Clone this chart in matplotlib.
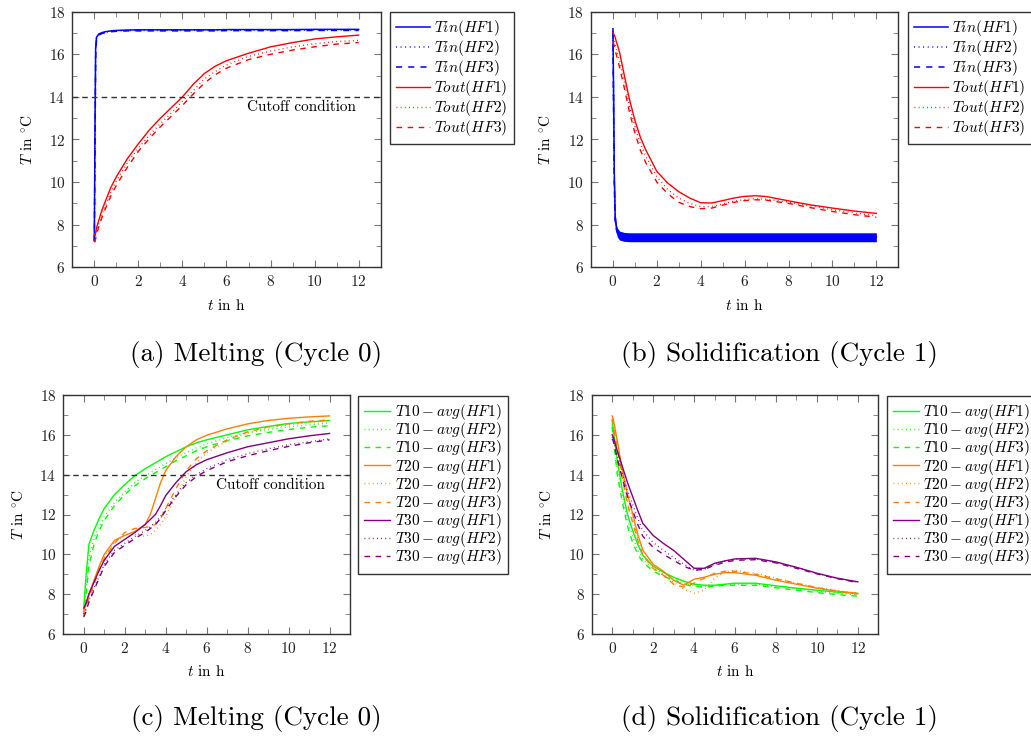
import matplotlib
matplotlib.use("Agg")
import matplotlib.pyplot as plt
from matplotlib.ticker import MultipleLocator

plt.rcParams['font.family'] = 'serif'
plt.rcParams['font.serif'] = ['cmr10']
plt.rcParams['mathtext.fontset'] = 'cm'
plt.rcParams['axes.unicode_minus'] = False
plt.rcParams['axes.formatter.use_mathtext'] = True

# ---------------- (a) Melting, cycle 0: inlet / outlet temperatures ----------------
t_a = [0, 0.03, 0.06, 0.1, 0.2, 0.35, 0.5, 0.75, 1, 1.5, 2, 2.5, 3, 3.5, 4, 4.5,
       5, 5.5, 6, 7, 8, 9, 10, 11, 12]
tin_a_hf1 = [7.3, 12.5, 16.3, 16.8, 16.95, 17.02, 17.06, 17.1, 17.12, 17.14, 17.15, 17.15, 17.15,
             17.15, 17.15, 17.15, 17.15, 17.15, 17.16, 17.16, 17.16, 17.16, 17.17, 17.17, 17.17]
tin_a_hf2 = [7.25, 12.0, 16.1, 16.75, 16.92, 17.0, 17.04, 17.08, 17.1, 17.12, 17.12, 17.13, 17.12,
             17.13, 17.12, 17.13, 17.12, 17.13, 17.13, 17.13, 17.13, 17.14, 17.14, 17.14, 17.14]
tin_a_hf3 = [7.2, 11.5, 15.9, 16.7, 16.9, 16.98, 17.02, 17.06, 17.08, 17.1, 17.1, 17.1, 17.1,
             17.1, 17.1, 17.1, 17.1, 17.1, 17.11, 17.11, 17.11, 17.11, 17.12, 17.12, 17.12]
tout_a_hf1 = [7.55, 7.5, 7.6, 7.85, 8.2, 8.7, 9.1, 9.75, 10.25, 11.1, 11.8, 12.45, 13.0, 13.5,
              14.0, 14.6, 15.1, 15.45, 15.7, 16.05, 16.35, 16.55, 16.72, 16.82, 16.9]
tout_a_hf2 = [7.3, 7.3, 7.5, 7.7, 8.0, 8.5, 8.9, 9.55, 10.05, 10.9, 11.6, 12.2, 12.75, 13.25,
              13.8, 14.3, 14.85, 15.2, 15.5, 15.9, 16.15, 16.35, 16.5, 16.6, 16.65]
tout_a_hf3 = [7.2, 7.2, 7.35, 7.55, 7.9, 8.35, 8.75, 9.35, 9.85, 10.7, 11.45, 12.05, 12.6, 13.1,
              13.6, 14.15, 14.65, 15.05, 15.35, 15.75, 16.0, 16.2, 16.35, 16.48, 16.55]

# ---------------- (b) Solidification, cycle 1 ----------------
t_b = [0, 0.03, 0.06, 0.1, 0.15, 0.2, 0.3, 0.5, 0.75, 1, 1.25, 1.5, 2, 2.5, 3, 3.5, 4,
       4.5, 5, 5.5, 6, 6.5, 7, 8, 9, 10, 11, 12]
tin_b_hf1 = [17.2, 14.0, 10.5, 8.4, 7.9, 7.7, 7.55, 7.45, 7.43, 7.42, 7.42, 7.42, 7.42, 7.42,
             7.42, 7.42, 7.42, 7.42, 7.42, 7.42, 7.42, 7.42, 7.42, 7.42, 7.42, 7.42, 7.42, 7.42]
tin_b_hf2 = [17.1, 13.6, 10.2, 8.3, 7.85, 7.65, 7.5, 7.42, 7.4, 7.4, 7.4, 7.4, 7.4, 7.4,
             7.4, 7.4, 7.4, 7.4, 7.4, 7.4, 7.4, 7.4, 7.4, 7.4, 7.4, 7.4, 7.4, 7.4]
tin_b_hf3 = [17.0, 13.2, 10.0, 8.2, 7.8, 7.6, 7.48, 7.4, 7.38, 7.38, 7.38, 7.38, 7.38, 7.38,
             7.38, 7.38, 7.38, 7.38, 7.38, 7.38, 7.38, 7.38, 7.38, 7.38, 7.38, 7.38, 7.38, 7.38]
# sensor noise band around the inlet signal
tin_b_hi = [17.2, 14.0, 10.5, 8.6, 8.05, 7.85, 7.7, 7.64, 7.62, 7.62, 7.62, 7.62, 7.62, 7.62,
            7.62, 7.62, 7.62, 7.62, 7.62, 7.62, 7.62, 7.62, 7.62, 7.62, 7.62, 7.62, 7.62, 7.62]
tin_b_lo = [17.0, 13.2, 10.0, 8.1, 7.65, 7.42, 7.28, 7.22, 7.2, 7.2, 7.2, 7.2, 7.2, 7.2,
            7.2, 7.2, 7.2, 7.2, 7.2, 7.2, 7.2, 7.2, 7.2, 7.2, 7.2, 7.2, 7.2, 7.2]
tout_b_hf1 = [17.0, 16.95, 16.9, 16.8, 16.6, 16.45, 16.1, 15.1, 13.9, 12.9, 12.1, 11.5, 10.5,
              9.95, 9.55, 9.25, 9.03, 9.02, 9.13, 9.25, 9.33, 9.36, 9.32, 9.12, 8.93, 8.78,
              8.64, 8.53]
tout_b_hf2 = [16.8, 16.7, 16.6, 16.45, 16.25, 16.05, 15.7, 14.8, 13.6, 12.6, 11.8, 11.2, 10.25,
              9.65, 9.25, 9.0, 8.85, 8.85, 8.98, 9.1, 9.18, 9.22, 9.2, 9.06, 8.88, 8.7,
              8.55, 8.42]
tout_b_hf3 = [16.6, 16.5, 16.4, 16.2, 16.0, 15.8, 15.4, 14.5, 13.3, 12.3, 11.5, 10.9, 10.0,
              9.45, 9.05, 8.85, 8.75, 8.78, 8.92, 9.05, 9.13, 9.17, 9.15, 9.0, 8.8, 8.62,
              8.47, 8.35]

# ---------------- (c) Melting, cycle 0: storage layer averages ----------------
t_c = [0, 0.1, 0.25, 0.5, 0.75, 1, 1.5, 2, 2.5, 3, 3.25, 3.5, 3.75, 4, 4.5, 5, 5.5, 6,
       7, 8, 9, 10, 11, 12]
t10_c_hf1 = [7.3, 8.8, 10.5, 11.2, 11.8, 12.3, 13.0, 13.5, 13.95, 14.3, 14.45, 14.6, 14.75,
             14.9, 15.15, 15.4, 15.6, 15.75, 16.0, 16.25, 16.42, 16.57, 16.65, 16.72]
t10_c_hf2 = [7.0, 8.2, 9.8, 10.8, 11.4, 11.9, 12.6, 13.15, 13.6, 13.95, 14.1, 14.25, 14.4,
             14.55, 14.85, 15.1, 15.35, 15.55, 15.85, 16.1, 16.27, 16.4, 16.5, 16.6]
t10_c_hf3 = [6.9, 7.9, 9.4, 10.5, 11.2, 11.7, 12.45, 13.0, 13.45, 13.8, 13.95, 14.1, 14.25,
             14.4, 14.7, 14.95, 15.2, 15.4, 15.7, 15.95, 16.12, 16.27, 16.38, 16.46]
t20_c_hf1 = [7.2, 7.5, 8.0, 8.7, 9.4, 10.0, 10.7, 10.95, 11.15, 11.5, 12.0, 12.8, 13.6,
             14.2, 14.9, 15.4, 15.75, 15.98, 16.3, 16.55, 16.72, 16.83, 16.9, 16.95]
t20_c_hf2 = [7.1, 7.4, 7.9, 8.6, 9.3, 9.9, 10.6, 11.0, 11.0, 10.9, 11.0, 11.2, 11.5,
             11.9, 12.9, 13.9, 14.6, 15.1, 15.7, 16.1, 16.35, 16.5, 16.62, 16.7]
t20_c_hf3 = [7.0, 7.3, 7.8, 8.5, 9.2, 9.8, 10.55, 11.1, 11.3, 11.35, 11.4, 11.5, 11.8,
             12.3, 13.3, 14.2, 14.8, 15.2, 15.75, 16.15, 16.4, 16.55, 16.68, 16.75]
t30_c_hf1 = [7.3, 7.5, 8.0, 8.6, 9.2, 9.7, 10.4, 10.75, 11.1, 11.5, 11.75, 12.0, 12.45,
             12.95, 13.6, 14.15, 14.5, 14.75, 15.1, 15.4, 15.6, 15.8, 15.95, 16.07]
t30_c_hf2 = [7.0, 7.2, 7.7, 8.3, 8.9, 9.5, 10.2, 10.55, 10.9, 11.2, 11.4, 11.6, 11.9,
             12.3, 13.0, 13.6, 14.0, 14.3, 14.75, 15.05, 15.3, 15.5, 15.65, 15.8]
t30_c_hf3 = [6.85, 7.1, 7.6, 8.2, 8.8, 9.4, 10.1, 10.45, 10.8, 11.1, 11.3, 11.5, 11.8,
             12.2, 12.9, 13.5, 13.9, 14.2, 14.65, 14.95, 15.2, 15.42, 15.6, 15.75]

# ---------------- (d) Solidification, cycle 1: storage layer averages ----------------
t_d = [0, 0.05, 0.25, 0.5, 0.75, 1, 1.25, 1.5, 2, 2.5, 3, 3.5, 4, 4.5, 5, 5.5, 6, 7, 8,
       9, 10, 11, 12]
t10_d_hf1 = [16.7, 16.3, 14.7, 13.2, 12.0, 11.2, 10.5, 9.95, 9.4, 9.1, 8.85, 8.65, 8.5,
             8.45, 8.45, 8.5, 8.55, 8.55, 8.42, 8.3, 8.2, 8.1, 8.03]
t10_d_hf2 = [16.5, 16.1, 14.3, 12.9, 11.7, 10.9, 10.2, 9.75, 9.25, 8.95, 8.75, 8.55, 8.42,
             8.38, 8.42, 8.47, 8.5, 8.5, 8.38, 8.27, 8.15, 8.05, 7.97]
t10_d_hf3 = [16.4, 15.9, 14.0, 12.6, 11.4, 10.6, 10.0, 9.6, 9.15, 8.9, 8.7, 8.5, 8.38,
             8.35, 8.4, 8.45, 8.45, 8.45, 8.32, 8.2, 8.08, 7.98, 7.9]
t20_d_hf1 = [16.95, 16.8, 15.7, 14.2, 13.0, 12.05, 11.0, 10.2, 9.5, 9.15, 8.7, 8.45, 8.75,
             8.85, 9.0, 9.08, 9.08, 8.95, 8.7, 8.5, 8.3, 8.15, 8.04]
t20_d_hf2 = [16.8, 16.6, 15.4, 13.9, 12.7, 11.8, 10.8, 10.0, 9.35, 9.0, 8.6, 8.25, 8.05,
             8.2, 8.8, 9.1, 9.2, 9.05, 8.8, 8.55, 8.35, 8.18, 8.05]
t20_d_hf3 = [16.8, 16.6, 15.3, 13.8, 12.5, 11.6, 10.7, 9.95, 9.3, 8.95, 8.5, 8.35, 8.55,
             8.8, 9.05, 9.15, 9.15, 9.0, 8.77, 8.55, 8.33, 8.15, 8.0]
t30_d_hf1 = [16.0, 15.9, 15.2, 14.4, 13.6, 12.9, 12.2, 11.55, 10.95, 10.55, 10.2, 9.75, 9.3,
             9.3, 9.55, 9.67, 9.77, 9.8, 9.62, 9.35, 9.05, 8.8, 8.62]
t30_d_hf2 = [15.9, 15.8, 15.0, 14.1, 13.2, 12.5, 11.8, 11.2, 10.6, 10.2, 9.85, 9.5, 9.2,
             9.25, 9.5, 9.65, 9.75, 9.77, 9.6, 9.33, 9.05, 8.8, 8.6]
t30_d_hf3 = [15.8, 15.7, 14.8, 13.8, 12.9, 12.2, 11.5, 10.9, 10.35, 10.0, 9.7, 9.4, 9.2,
             9.25, 9.45, 9.6, 9.7, 9.73, 9.57, 9.3, 9.02, 8.78, 8.58]

cutoff = 14.0
captions = ['(a) Melting (Cycle 0)', '(b) Solidification (Cycle 1)',
            '(c) Melting (Cycle 0)', '(d) Solidification (Cycle 1)']

BLUE = (0, 0, 1)
RED = (1, 0, 0)
GREEN = (0, 1, 0)
ORANGE = (1, 0.5, 0)
VIOLET = (0.5, 0, 0.5)
STYLES = ['-', (0, (0.6, 2.4)), (0, (4, 4))]   # HF1 solid, HF2 dotted, HF3 dashed
FS = 11

W, H = 1031, 743
fig = plt.figure(figsize=(W / 100, H / 100), dpi=100)


def px_axes(left, top, right, bottom):
    """Axes placed by pixel edges (origin top-left)."""
    return fig.add_axes([left / W, 1 - bottom / H, (right - left) / W, (bottom - top) / H])


def style_axes(ax):
    ax.set_xlim(-1, 13)
    ax.set_ylim(6, 18)
    ax.set_xticks([0, 2, 4, 6, 8, 10, 12])
    ax.set_yticks([6, 8, 10, 12, 14, 16, 18])
    ax.xaxis.set_minor_locator(MultipleLocator(1))
    ax.yaxis.set_minor_locator(MultipleLocator(1))
    ax.tick_params(which='both', direction='in', top=True, right=True,
                   color='#777777', labelsize=FS, labelcolor='#222222', pad=5)
    ax.tick_params(which='major', length=5)
    ax.tick_params(which='minor', length=3.5)
    for s in ax.spines.values():
        s.set_color('#333333')
        s.set_linewidth(1.0)
    ax.set_xlabel(r'$t$ in h', fontsize=FS, labelpad=6)
    ax.set_ylabel(r'$T$ in $^{\circ}$C', fontsize=FS, labelpad=10)


def add_legend(ax, left, top, spacing, handle):
    leg = ax.legend(loc='upper left', bbox_to_anchor=(left / W, 1 - top / H),
                    bbox_transform=fig.transFigure, fontsize=FS, fancybox=False,
                    edgecolor='#333333', framealpha=1, borderpad=0.4,
                    labelspacing=spacing, handlelength=handle, handletextpad=0.3,
                    borderaxespad=0)
    leg.get_frame().set_linewidth(1.0)


def add_cutoff(ax, x_text):
    ax.axhline(cutoff, color='#333333', lw=1.0, ls=(0, (4, 3)))
    ax.text(x_text, cutoff - 0.18, 'Cutoff condition', ha='right', va='top', fontsize=FS)


# (a)
ax = px_axes(72.3, 11.7, 380.7, 267.3)
for vals, ls, hf in zip([tin_a_hf1, tin_a_hf2, tin_a_hf3], STYLES, [1, 2, 3]):
    ax.plot(t_a, vals, color=BLUE, ls=ls, lw=1.1, label=r'$Tin(HF%d)$' % hf)
for vals, ls, hf in zip([tout_a_hf1, tout_a_hf2, tout_a_hf3], STYLES, [1, 2, 3]):
    ax.plot(t_a, vals, color=RED, ls=ls, lw=1.0, label=r'$Tout(HF%d)$' % hf)
add_cutoff(ax, 11.9)
style_axes(ax)
add_legend(ax, 390, 12, 0.0, 2.2)

# (b)
ax = px_axes(591, 11.7, 898.3, 267.3)
ax.fill_between(t_b, tin_b_lo, tin_b_hi, color=BLUE, lw=0)
for vals, ls, hf in zip([tin_b_hf1, tin_b_hf2, tin_b_hf3], STYLES, [1, 2, 3]):
    ax.plot(t_b, vals, color=BLUE, ls=ls, lw=1.1, label=r'$Tin(HF%d)$' % hf)
for vals, ls, hf in zip([tout_b_hf1, tout_b_hf2, tout_b_hf3], STYLES, [1, 2, 3]):
    ax.plot(t_b, vals, color=RED, ls=ls, lw=1.0, label=r'$Tout(HF%d)$' % hf)
style_axes(ax)
add_legend(ax, 908, 12, 0.0, 2.2)

# (c)
ax = px_axes(63.3, 395, 350, 634)
for layer, color, series in [(10, GREEN, [t10_c_hf1, t10_c_hf2, t10_c_hf3]),
                             (20, ORANGE, [t20_c_hf1, t20_c_hf2, t20_c_hf3]),
                             (30, VIOLET, [t30_c_hf1, t30_c_hf2, t30_c_hf3])]:
    for vals, ls, hf in zip(series, STYLES, [1, 2, 3]):
        ax.plot(t_c, vals, color=color, ls=ls, lw=1.0,
                label=r'$T%d-avg(HF%d)$' % (layer, hf))
add_cutoff(ax, 11.8)
style_axes(ax)
add_legend(ax, 358, 396, -0.12, 1.7)

# (d)
ax = px_axes(591.7, 395, 878.3, 634)
for layer, color, series in [(10, GREEN, [t10_d_hf1, t10_d_hf2, t10_d_hf3]),
                             (20, ORANGE, [t20_d_hf1, t20_d_hf2, t20_d_hf3]),
                             (30, VIOLET, [t30_d_hf1, t30_d_hf2, t30_d_hf3])]:
    for vals, ls, hf in zip(series, STYLES, [1, 2, 3]):
        ax.plot(t_d, vals, color=color, ls=ls, lw=1.0,
                label=r'$T%d-avg(HF%d)$' % (layer, hf))
style_axes(ax)
add_legend(ax, 886.7, 396, -0.12, 1.7)

# sub-figure captions
for (cx, cy), text in zip([(256, 355), (779, 355), (256, 718), (779, 718)], captions):
    fig.text(cx / W, 1 - cy / H, text, ha='center', va='center', fontsize=19.5)

fig.savefig('out.png', dpi=100)
